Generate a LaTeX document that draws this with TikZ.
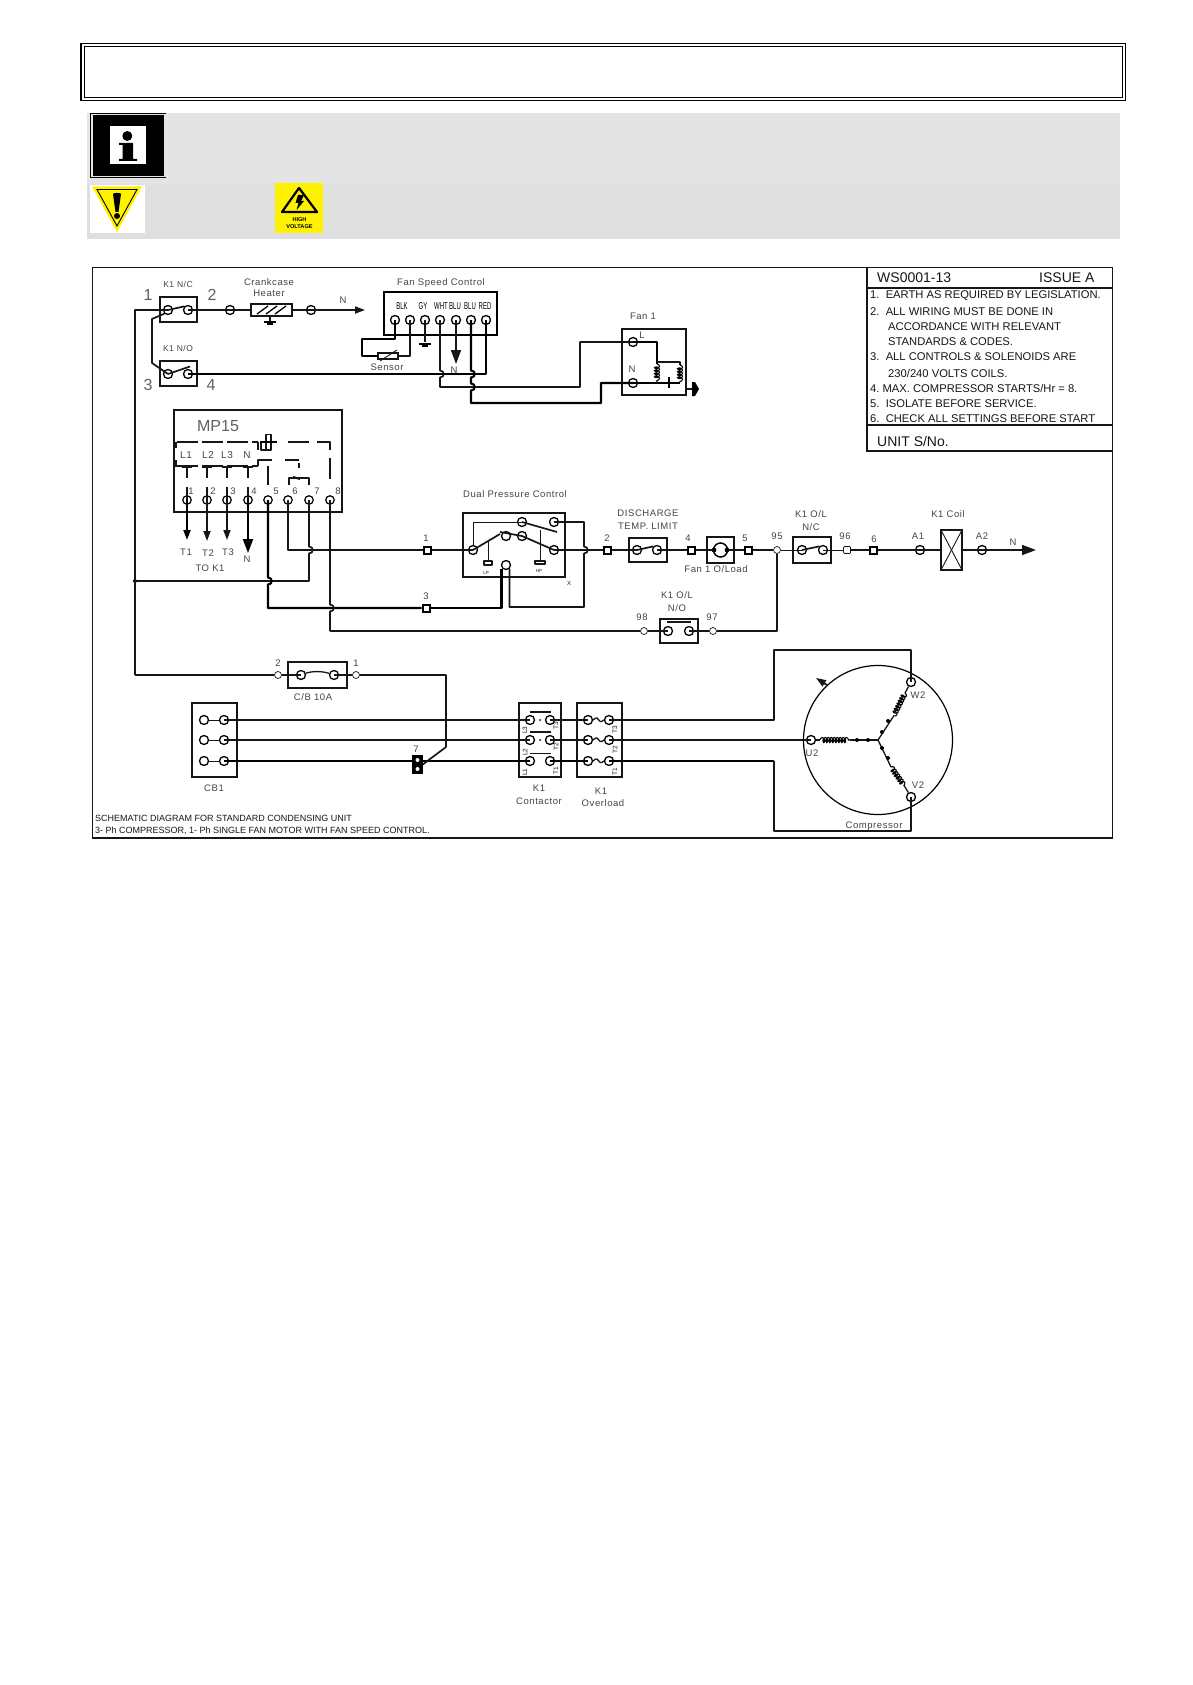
\documentclass[tikz,border=0pt]{standalone}
\usepackage{fontspec}
\setmainfont{Liberation Sans}
\newfontfamily\cad[LetterSpace=6]{Liberation Sans}
\newfontfamily\cadn{Liberation Sans}
\usetikzlibrary{arrows.meta,decorations.pathmorphing,shapes.geometric,calc}
\definecolor{inkc}{HTML}{161616}
\definecolor{lblc}{HTML}{444444}
\definecolor{bandA}{HTML}{E4E4E4}
\definecolor{bandB}{HTML}{DFDFDF}
\definecolor{signy}{HTML}{FFF200}
\tikzset{
  x=1pt,y=-1pt,
  wire/.style={draw=inkc,line width=1.7pt,line join=round},
  heavy/.style={draw=black,line width=2.1pt,line join=round},
  fine/.style={draw=inkc,line width=0.9pt,line join=round},
  boxst/.style={rectangle,draw=inkc,line width=1.6pt,inner sep=0pt,outer sep=0pt},
  term/.style={circle,draw=black,fill=white,line width=1.3pt,inner sep=0pt,minimum size=9pt},
  oterm/.style={circle,draw=inkc,fill=white,line width=0.7pt,inner sep=0pt,minimum size=7pt},
  sqterm/.style={rectangle,draw=black,fill=white,line width=2pt,inner sep=0pt,minimum size=7pt},
  osq/.style={rectangle,rounded corners=1pt,draw=inkc,fill=white,line width=0.7pt,inner sep=0pt,minimum size=7pt},
  stardot/.style={circle,fill=black,inner sep=0pt,minimum size=4pt},
  lbl/.style={font=\cad\fontsize{9.5}{10}\selectfont,text=lblc,inner sep=0pt},
  mid/.style={font=\cad\fontsize{10}{11}\selectfont,text=lblc,inner sep=0pt},
  big/.style={font=\cadn\fontsize{16}{18}\selectfont,text=lblc!85,inner sep=0pt},
  note/.style={font=\cadn\fontsize{11.2}{12}\selectfont,text=inkc,inner sep=0pt,anchor=west},
  head/.style={font=\cadn\fontsize{14}{16}\selectfont,text=inkc,inner sep=0pt,anchor=west},
  tiny/.style={font=\cadn\fontsize{6.5}{7}\selectfont,text=inkc,inner sep=0pt},
  wirelab/.style={font=\cadn\fontsize{10}{10}\selectfont,text=black,inner sep=0pt},
  tipS/.style={-{Triangle[length=10pt,width=7pt]}},
  tipL/.style={-{Triangle[length=14pt,width=10pt]}},
  coilst/.style={draw=black,line width=1.1pt,decorate,decoration={coil,aspect=0.6,segment length=3pt,amplitude=2.5pt}},
}
\newcommand\bx[6][]{\node[boxst,minimum width={(#5-#3)*1pt},minimum height={(#6-#4)*1pt},#1] (#2) at ({(#3+#5)/2},{(#4+#6)/2}) {};}
\newcommand\vb[2]{-- (#1,#2-3.5) .. controls (#1+5,#2-3.5) and (#1+5,#2+3.5) .. (#1,#2+3.5)}
\newcommand\gnd[2]{\draw[heavy,line width=1.5pt] (#1-6,#2) -- (#1+6,#2); \draw[heavy,line width=1.5pt] (#1-3,#2+2.2) -- (#1+3,#2+2.2);}
\begin{document}
\begin{tikzpicture}
\useasboundingbox (0,0) rectangle (1192,1685);
\fill[white] (0,0) rectangle (1192,1685);
% ---- header frame and bands
\node[boxst,draw=black,line width=1.6pt,minimum width=1044.6pt,minimum height=57pt] (frameO) at (603.3,72) {};
\node[boxst,draw=black,line width=1pt,minimum width=1038.6pt,minimum height=51pt] (frameI) at (603.3,72) {};
\fill[bandA] (87,113) rectangle (1120,184);
\fill[bandB] (87,184) rectangle (1120,239);
% info icon
\draw[black,line width=0.8pt] (165.7,113.4) -- (90.7,113.4) -- (90.7,177.4) -- (165.7,177.4);
\fill[black] (92.7,115.3) rectangle (163.7,175.7);
\fill[white] (110,126) rectangle (146,164);
\fill[black] (127.3,136) circle[radius=5];
\fill[black] (119,143) -- (133,143) -- (133,159) -- (137,159) -- (137,161) -- (119,161) -- (119,159) -- (122.5,159) -- (122.5,145) -- (119,145) -- cycle;
% warning sign
\fill[white] (90,185) rectangle (145,233);
\fill[signy] (92,186.5) -- (142,186.5) -- (117,232) -- cycle;
\draw[black,line width=0.9pt] (97,189.5) -- (137,189.5) -- (117,226) -- cycle;
\fill[black] (113,194) .. controls (113,192.5) and (121,192.5) .. (121,194) -- (118.5,212) -- (115.5,212) -- cycle;
\fill[black] (117,216) circle[radius=3];
% high voltage sign
\fill[signy] (275,183) rectangle (323,233);
\draw[black,line width=2.2pt,line join=round] (299,188) -- (317,212) -- (282,212) -- cycle;
\fill[black] (298,195) -- (304,195) -- (301,201) -- (304,201) -- (296.5,210) -- (298.5,203) -- (295.5,203) -- cycle;
\node[font=\cadn\bfseries\fontsize{5.6}{6}\selectfont,inner sep=0pt] (hvA) at (299.5,220) {HIGH};
\node[font=\cadn\bfseries\fontsize{5.6}{6}\selectfont,inner sep=0pt] (hvB) at (299.5,226.5) {VOLTAGE};
% ---- drawing frame
\node[boxst,draw=inkc,line width=1.4pt,minimum width=1020pt,minimum height=570.5pt] (sheet) at (602.7,552.7) {};
% notes panel
\draw[inkc,line width=1.3pt] (867,267.5) -- (867,451) -- (1112.7,451);
\draw[inkc,line width=1.3pt] (867,288) -- (1112.7,288);
\draw[inkc,line width=1.3pt] (867,425) -- (1112.7,425);
\node[head] (nt0) at (877,278) {WS0001-13};
\node[head] (nt00) at (1039,278) {ISSUE A};
\node[note] (nt1) at (870,296) {1.\ \ EARTH AS REQUIRED BY LEGISLATION.};
\node[note] (nt2) at (870,312) {2.\ \ ALL WIRING MUST BE DONE IN};
\node[note] (nt3) at (888,327) {ACCORDANCE WITH RELEVANT};
\node[note] (nt4) at (888,342) {STANDARDS \& CODES.};
\node[note] (nt5) at (870,357) {3.\ \ ALL CONTROLS \& SOLENOIDS ARE};
\node[note] (nt6) at (888,373) {230/240 VOLTS COILS.};
\node[note] (nt7) at (870,388) {4.\ MAX. COMPRESSOR STARTS/Hr = 8.};
\node[note] (nt8) at (870,404) {5.\ \ ISOLATE BEFORE SERVICE.};
\node[note] (nt9) at (870,419) {6.\ \ CHECK ALL SETTINGS BEFORE START};
\node[head] (nt10) at (877,441) {UNIT S/No.};
% bottom caption
\node[note,font=\cadn\fontsize{9}{10}\selectfont] (cap1) at (95,818) {SCHEMATIC DIAGRAM FOR STANDARD CONDENSING UNIT};
\node[note,font=\cadn\fontsize{9}{10}\selectfont] (cap2) at (95,831) {3- Ph COMPRESSOR, 1- Ph SINGLE FAN MOTOR WITH FAN SPEED CONTROL.};

% ---- K1 contacts, heater
\bx{knc}{160}{297}{197}{322}
\bx{kno}{160}{361}{197}{386}
\node[term] (ncA) at (168,310) {};
\node[term] (ncB) at (188,310) {};
\node[term] (noA) at (168,374) {};
\node[term] (noB) at (188,374) {};
\node[term] (ht1) at (230,310) {};
\bx{heat}{251}{304}{292}{316}
\node[term] (ht2) at (311,310) {};
\coordinate (htN) at (365,310);
\coordinate (railT) at (135,310);
\coordinate (railB) at (135,675);
\node[circle,fill=black,inner sep=0pt,minimum size=4pt] (railJ) at (135,581) {};
\node[mid,font=\cad\fontsize{8.5}{10}\selectfont] (lNC) at (178,284) {K1 N/C};
\node[mid,font=\cad\fontsize{8.5}{10}\selectfont] (lNO) at (178,348) {K1 N/O};
\node[big] (l1) at (148,295) {1};
\node[big] (l2) at (212,295) {2};
\node[big] (l3) at (148,385) {3};
\node[big] (l4) at (211,385) {4};
\node[lbl] (lCr) at (269,282) {Crankcase};
\node[lbl] (lHe) at (269,293) {Heater};
\node[lbl] (lN1) at (343,300) {N};
\draw[wire] (ncA.center) -- (ncB.north west);
\draw[wire] (noA.center) -- (190,366.5);
\draw[wire] (ncB.center) -- (ht1.center);
\draw[wire] (ht1.center) -- (heat);
\draw[wire] (heat) -- (ht2.center);
\draw[wire,tipS] (ht2.center) -- (htN);
\draw[wire] (ncA.center) -- (railT) -- (railB);
\draw[wire] (ncA.south west) -- (152,319) -- (152,363) -- (noA.center);
\foreach \a/\b/\c/\d in {257/312/268/306, 266/312/277/306, 275/312/286/306}
  \draw[heavy,line width=1.3pt] (\a,\b+2) -- (\c,\d);
\draw[wire] (270,316) -- (270,322);
\gnd{270}{322}

% ---- fan speed control
\bx[line width=2pt,draw=black]{fsc}{384}{292}{497}{335}
\node[lbl] (lFsc) at (441,283) {Fan Speed Control};
\node[term] (fs1) at (395,320) {};
\node[term] (fs2) at (410,320) {};
\node[term] (fs3) at (425,320) {};
\node[term] (fs4) at (440,320) {};
\node[term] (fs5) at (456,320) {};
\node[term] (fs6) at (471,320) {};
\node[term] (fs7) at (486,320) {};
\node[wirelab] (tx1) at (402,306) {\scalebox{0.6}[1]{BLK}};
\node[wirelab] (tx2) at (423,306) {\scalebox{0.6}[1]{GY}};
\node[wirelab] (tx3) at (441,306) {\scalebox{0.6}[1]{WHT}};
\node[wirelab] (tx4) at (455,306) {\scalebox{0.6}[1]{BLU}};
\node[wirelab] (tx5) at (470,306) {\scalebox{0.6}[1]{BLU}};
\node[wirelab] (tx6) at (485,306) {\scalebox{0.6}[1]{RED}};
\bx[line width=1.1pt]{sens}{378}{353}{398}{359}
\node[lbl] (lSe) at (387,367) {Sensor};
\draw[heavy] (fs1.center) -- (395,339) -- (362,339) -- (362,356) -- (sens);
\draw[wire] (sens) -- (410,356) -- (fs2.center);
\draw[fine] (380,361) -- (397,350);
\coordinate (gy) at (425,342);
\draw[wire] (fs3.center) -- (gy);
\gnd{425}{344}
\coordinate (nArrow) at (456,364);
\draw[wire,tipL] (fs5.center) -- (nArrow);
\node[lbl] (lN2) at (454,370) {N};

% ---- fan
\bx{fan}{622}{329}{686}{395}
\node[term] (fanL) at (633,342) {};
\node[term] (fanN) at (633,383) {};
\node[lbl] (lFan) at (643,316) {Fan 1};
\node[lbl] (lL) at (642,335) {L};
\node[lbl] (lNf) at (632,369) {N};
\draw[wire] (fs4.center) \vb{440}{374} -- (440,387) -- (580,387) -- (580,342) -- (fanL.center);
\draw[heavy] (fs6.center) \vb{471}{374} \vb{471}{387} -- (471,403) -- (601,403) -- (601,383) -- (fanN.center);
\draw[heavy] (fs7.center) -- (486,374) -- (noB.center);
\draw[heavy] (fanL.center) -- (657,342) -- (657,364);
\draw[wire] (657,362) -- (680,362) -- (680,365);
\draw[coilst] (657,364) -- (657,382);
\draw[coilst] (680,365) -- (680,382);
\draw[heavy] (fanN.center) -- (680,383);
\draw[heavy,line width=2.5pt] (669,377) -- (669,388);
\draw[wire] (686,389) -- (692,389);
\fill[black] (692,382) -- (695,382) -- (699,389) -- (695,396) -- (692,396) -- cycle;

% ---- MP15
\bx[line width=1.7pt]{mp}{174}{410}{342}{512}
\node[big] (lMp) at (218,426) {MP15};
\foreach \n/\x in {1/187,2/207,3/227,4/248,5/268,6/288,7/309,8/330}
  \node[term,line width=1.2pt,minimum size=8.5pt] (m\n) at (\x,500) {};
\node[mid] (tL1) at (186,455) {L1};
\node[mid] (tL2) at (208,455) {L2};
\node[mid] (tL3) at (227,455) {L3};
\node[mid] (tNn) at (247,455) {N};
\node[lbl] (nm1) at (191,491) {1};
\node[lbl] (nm2) at (213,491) {2};
\node[lbl] (nm3) at (233,491) {3};
\node[lbl] (nm4) at (254,491) {4};
\node[lbl] (nm5) at (276,491) {5};
\node[lbl] (nm6) at (295,491) {6};
\node[lbl] (nm7) at (317,491) {7};
\node[lbl] (nm8) at (338,491) {8};
\draw[wire,line width=1.4pt,dash pattern=on 21pt off 4pt] (177,442) -- (258,442);
\draw[wire,line width=1.4pt,dash pattern=on 21pt off 4pt] (177,466) -- (258,466);
\draw[wire,line width=1.4pt,dash pattern=on 21pt off 8pt] (288,442) -- (330,442) -- (330,482);
\draw[wire,line width=2.4pt] (176,442) -- (176,448);
\draw[wire,line width=2.4pt] (176,460) -- (176,467);
\draw[wire,line width=1.3pt] (258,442) -- (258,450);
\draw[wire,line width=1.3pt] (258,466) -- (258,460) -- (272,460);
\draw[wire,line width=1.3pt] (261,442) -- (261,450) -- (266,450) -- (266,442);
\draw[wire,line width=1.3pt] (266,434.5) rectangle (271,450);
\draw[heavy,line width=1.5pt] (260,442) -- (277,442);
\draw[wire,line width=1.3pt] (268,466) -- (268,485);
\draw[wire,line width=1.3pt,dash pattern=on 14pt off 3pt] (285,460) -- (299,460) -- (299,468);
\draw[wire,line width=1.3pt] (289,485) -- (289,478) -- (309,478) -- (309,485);
\draw[wire,line width=2pt] (293,477) -- (300,479);
\foreach \x in {187,207,227,248}{
  \draw[wire,line width=1.6pt] (\x-5,467) -- (\x+5,467);
  \draw[wire,line width=1.6pt] (\x,467) -- (\x,478);
}
\draw[wire] (m1.center) -- (187,487);
\draw[wire] (m2.center) -- (207,487);
\draw[wire] (m3.center) -- (227,487);
\draw[wire] (m4.center) -- (248,487);
\coordinate (tT1) at (187,540);
\coordinate (tT2) at (207,541);
\coordinate (tT3) at (227,540);
\coordinate (tN3) at (248,553);
\draw[heavy,tipS] (m1.center) -- (tT1);
\draw[wire,tipS] (m2.center) -- (tT2);
\draw[wire,tipS] (m3.center) -- (tT3);
\draw[heavy,tipL] (m4.center) -- (tN3);
\node[lbl] (lT1) at (186,552) {T1};
\node[lbl] (lT2) at (208,553) {T2};
\node[lbl] (lT3) at (228,552) {T3};
\node[lbl] (lN3) at (247,559) {N};
\node[lbl] (lTo) at (210,568) {TO K1};

% ---- control rung
\node[sqterm] (s1) at (427,550) {};
\node[sqterm] (s3) at (426,608) {};
\node[lbl] (ls1) at (426,538) {1};
\node[lbl] (ls3) at (426,596) {3};
\draw[wire] (m6.center) -- (288,550) -- (s1);
\draw[wire] (m7.center) \vb{309}{550} -- (309,581) -- (railJ);
\draw[heavy] (m5.center) \vb{268}{581} -- (268,608) -- (s3);
\draw[wire] (m8.center) \vb{330}{608} -- (330,631);

% dual pressure
\bx{dp}{463}{513}{565}{577}
\node[lbl] (lDp) at (515,494) {Dual Pressure Control};
\node[term] (dA) at (473,550) {};
\node[term] (dB) at (506,536) {};
\node[term] (dC) at (522,536) {};
\node[term] (dD) at (522,522) {};
\node[term] (dE) at (554,522) {};
\node[term] (dF) at (554,550) {};
\node[term] (dG) at (506,565) {};
\draw[wire] (s1) -- (dA.center);
\draw[fine] (dA) -- (473,522) -- (dD.center);
\draw[wire] (dD.center) -- (557,532);
\draw[wire] (dA.center) -- (500,534);
\draw[wire] (500,532) -- (dC.center);
\draw[wire] (dC.center) -- (dF.center);
\draw[fine] (488,541) -- (488,560);
\draw[fine] (540,530) -- (540,560);
\draw[wire,line width=1.3pt] (484,561) rectangle (492,565);
\draw[wire,line width=1.3pt] (535,561) rectangle (545,564);
\node[tiny,font=\cadn\fontsize{4.5}{5}\selectfont] (lLP) at (486,573) {LP};
\node[tiny,font=\cadn\fontsize{4.5}{5}\selectfont] (lHP) at (539,571) {HP};
\node[tiny,font=\cadn\fontsize{6}{7}\selectfont] (lX) at (569,583) {X};
\draw[heavy] (s3) -- (501.5,608) -- (501.5,569);
\draw[wire] (dE.center) -- (584,522) \vb{584}{550} -- (584,607) -- (509.5,607) -- (509.5,569);

% rung right part
\node[sqterm] (s2) at (607,550) {};
\node[lbl] (ls2) at (607,538) {2};
\bx{dsc}{629}{538}{667}{562}
\node[term] (dsA) at (637,550) {};
\node[term] (dsB) at (657,550) {};
\node[lbl] (lD1) at (648,513) {DISCHARGE};
\node[lbl] (lD2) at (648,526) {TEMP. LIMIT};
\node[sqterm] (s4) at (691,550) {};
\node[lbl] (ls4) at (688,538) {4};
\bx{ol}{707}{537}{734}{563}
\node[circle,draw=black,fill=white,line width=1.5pt,inner sep=0pt,minimum size=14pt] (olc) at (720.5,550) {};
\fill[black] (714,550) circle[radius=2.4];
\fill[black] (727,550) circle[radius=2.4];
\node[lbl] (lOl) at (716,569) {Fan 1 O/Load};
\node[sqterm] (s5) at (748,550) {};
\node[lbl] (ls5) at (745,538) {5};
\node[oterm] (o95) at (777,550) {};
\node[lbl] (l95) at (777,536) {95};
\bx{kc}{793}{537}{831}{563}
\node[term] (kcA) at (802,550) {};
\node[term] (kcB) at (823,550) {};
\node[lbl] (lkc1) at (811,514) {K1 O/L};
\node[lbl] (lkc2) at (811,527) {N/C};
\node[osq] (o96) at (847,550) {};
\node[lbl] (l96) at (845,536) {96};
\node[sqterm] (s6) at (873,550) {};
\node[lbl] (ls6) at (874,539) {6};
\node[term] (a1) at (920,550) {};
\node[lbl] (la1) at (918,536) {A1};
\bx[line width=1.7pt]{coil}{941}{530}{962}{570}
\draw[fine] (coil.north west) -- (coil.south east);
\draw[fine] (coil.north east) -- (coil.south west);
\node[lbl] (lco) at (948,514) {K1 Coil};
\node[term] (a2) at (982,550) {};
\node[lbl] (la2) at (982,536) {A2};
\coordinate (coilN) at (1036,550);
\node[lbl] (lN4) at (1013,542) {N};
\draw[wire] (dF.center) -- (s2);
\draw[wire] (s2) -- (dsA.center);
\draw[wire] (dsA.center) -- (dsB.north west);
\draw[wire] (dsB.center) -- (s4);
\draw[wire] (s4) -- (olc);
\draw[wire] (olc) -- (s5);
\draw[wire] (s5) -- (o95);
\draw[fine] (o95) -- (kcA.center);
\draw[wire] (kcA.center) -- (kcB.north west);
\draw[fine] (kcB.center) -- (o96);
\draw[wire] (o96) -- (s6);
\draw[wire] (s6) -- (a1.center);
\draw[wire] (a1.center) -- (coil);
\draw[wire] (coil) -- (a2.center);
\draw[wire,tipL] (a2.center) -- (coilN);

% O/L N/O
\node[oterm] (o98) at (644,631) {};
\node[oterm] (o97) at (713,631) {};
\node[lbl] (l98) at (642,617) {98};
\node[lbl] (l97) at (712,617) {97};
\bx{kn}{660}{619}{698}{643}
\node[term] (knA) at (668,631) {};
\node[term] (knB) at (689,631) {};
\draw[wire,line width=1.3pt] (667,622) -- (691,622);
\node[lbl] (lkn1) at (677,595) {K1 O/L};
\node[lbl] (lkn2) at (677,608) {N/O};
\draw[wire] (330,631) -- (o98);
\draw[wire] (o98) -- (knA.center);
\draw[wire] (knB.center) -- (o97);
\draw[wire] (o95) -- (777,631) -- (o97);

% ---- C/B
\node[oterm] (cb2) at (278,675) {};
\node[oterm] (cb1) at (356,675) {};
\node[lbl] (lcb2) at (278,663) {2};
\node[lbl] (lcb1) at (356,663) {1};
\bx{cb}{288}{662}{347}{688}
\node[term] (cbA) at (301,675) {};
\node[term] (cbB) at (334,675) {};
\node[lbl] (lcb) at (313,697) {C/B 10A};
\draw[wire] (railB) -- (cb2);
\draw[wire] (cb2) -- (cbA.center);
\draw[wire,line width=1.3pt] (cbA) .. controls (312,671) and (322,671) .. (cbB);
\draw[wire] (cbB.center) -- (cb1);

% ---- CB1 and power
\bx{cbi}{192}{703}{237}{777}
\node[lbl] (lcbi) at (214,788) {CB1};
\foreach \r/\y in {a/720,b/740,c/761}{
  \node[term] (cL\r) at (204,\y) {};
  \node[term] (cR\r) at (224,\y) {};
  \node[term] (kL\r) at (530,\y) {};
  \node[term] (kR\r) at (550,\y) {};
  \node[term] (vL\r) at (588,\y) {};
  \node[term] (vR\r) at (609,\y) {};
  \draw[fine] (cL\r) -- (cR\r);
  \draw[wire,line width=1.3pt] (vL\r.east) .. controls (600,\y-7) and (597,\y+6) .. (vR\r.west);
}
\bx{ct}{519}{703}{561}{777}
\bx{ov}{577}{703}{622}{777}
\draw[wire] (530,712) -- (551,712);
\draw[wire,line width=1.3pt] (530,732) -- (551,732);
\draw[fine] (530,753) -- (551,753);
\fill[black] (540,720) circle[radius=1];
\fill[black] (540,740) circle[radius=1];
\node[tiny,rotate=90] (rl3) at (525,730) {L3};
\node[tiny,rotate=90] (rl2) at (525,752) {L2};
\node[tiny,rotate=90] (rl1) at (525,772) {L1};
\node[tiny,rotate=90] (rt3) at (556,726) {T3};
\node[tiny,rotate=90] (rt2) at (556,747) {T2};
\node[tiny,rotate=90] (rt1) at (556,771) {T1};
\node[tiny,rotate=90] (ro3) at (615,730) {T3};
\node[tiny,rotate=90] (ro2) at (615,750) {T2};
\node[tiny,rotate=90] (ro1) at (615,772) {T1};
\node[lbl] (lct1) at (539,788) {K1};
\node[lbl] (lct2) at (539,801) {Contactor};
\node[lbl] (lov1) at (601,791) {K1};
\node[lbl] (lov2) at (603,803) {Overload};

% motor
\node[circle,draw=black,line width=1.2pt,inner sep=0pt,minimum size=149pt] (motor) at (878,740) {};
\node[term] (u2) at (811,740) {};
\node[term] (w2) at (911,682) {};
\node[term] (v2) at (911,797) {};
\coordinate (star) at (878,740);
\node[lbl] (lU) at (812,753) {U2};
\node[lbl] (lW) at (918,695) {W2};
\node[lbl] (lV) at (918,785) {V2};
\node[lbl] (lCm) at (874,826) {Compressor};
\draw[wire,line width=1.3pt] (cRa.center) -- (kLa.center);
\draw[wire,line width=1.3pt] (kRa.center) -- (vLa.center);
\draw[wire,line width=1.3pt] (vRa.center) -- (774,720) -- (774,650) -- (911,650) -- (w2.center);
\draw[wire] (cRb.center) -- (kLb.center);
\draw[wire] (kRb.center) -- (vLb.center);
\draw[wire] (vRb.center) -- (u2.center);
\draw[heavy] (cRc.center) -- (kLc.center);
\draw[heavy] (kRc.center) -- (vLc.center);
\draw[heavy] (vRc.center) -- (774,761);
\draw[wire,line width=1.3pt] (774,761) -- (774,831) -- (911,831) -- (v2.center);
% contact 7
\node[sqterm,line width=1.5pt,minimum width=9pt,minimum height=17pt,fill=black] (s7) at (417.5,764.5) {};
\node[circle,fill=white,inner sep=0pt,minimum size=4pt] (s7a) at (417.5,760) {};
\node[circle,fill=white,inner sep=0pt,minimum size=4pt] (s7b) at (417.5,769) {};
\node[lbl] (ls7) at (416,749) {7};
\draw[wire] (cb1) -- (446,675) -- (446,747) -- (s7.east);
% windings
\coordinate (uA) at (820,740); \coordinate (uB) at (850,740);
\coordinate (wA) at (905,693); \coordinate (wB) at (893,717);
\coordinate (vA) at (891,767); \coordinate (vB) at (905,787);
\draw[wire,line width=1.3pt] (u2) -- (uA);
\draw[coilst] (uA) -- (uB);
\draw[wire,line width=1.3pt] (uB) -- (star);
\draw[wire,line width=1.3pt] (w2) -- (wA);
\draw[coilst] (wA) -- (wB);
\draw[wire,line width=1.3pt] (wB) -- (star);
\draw[wire,line width=1.3pt] (star) -- (vA);
\draw[coilst] (vA) -- (vB);
\draw[wire,line width=1.3pt] (vB) -- (v2);
\node[stardot] (d1) at (857,740) {};
\node[stardot] (d2) at (868,740) {};
\node[stardot] (d3) at (888,721) {};
\node[stardot] (d4) at (882,732) {};
\node[stardot] (d5) at (882,748) {};
\node[stardot] (d6) at (888,758) {};
\coordinate (rotA) at (827,685);
\coordinate (rotB) at (816,678);
\draw[wire,tipS] (rotA) -- (rotB);
\end{tikzpicture}
\end{document}
